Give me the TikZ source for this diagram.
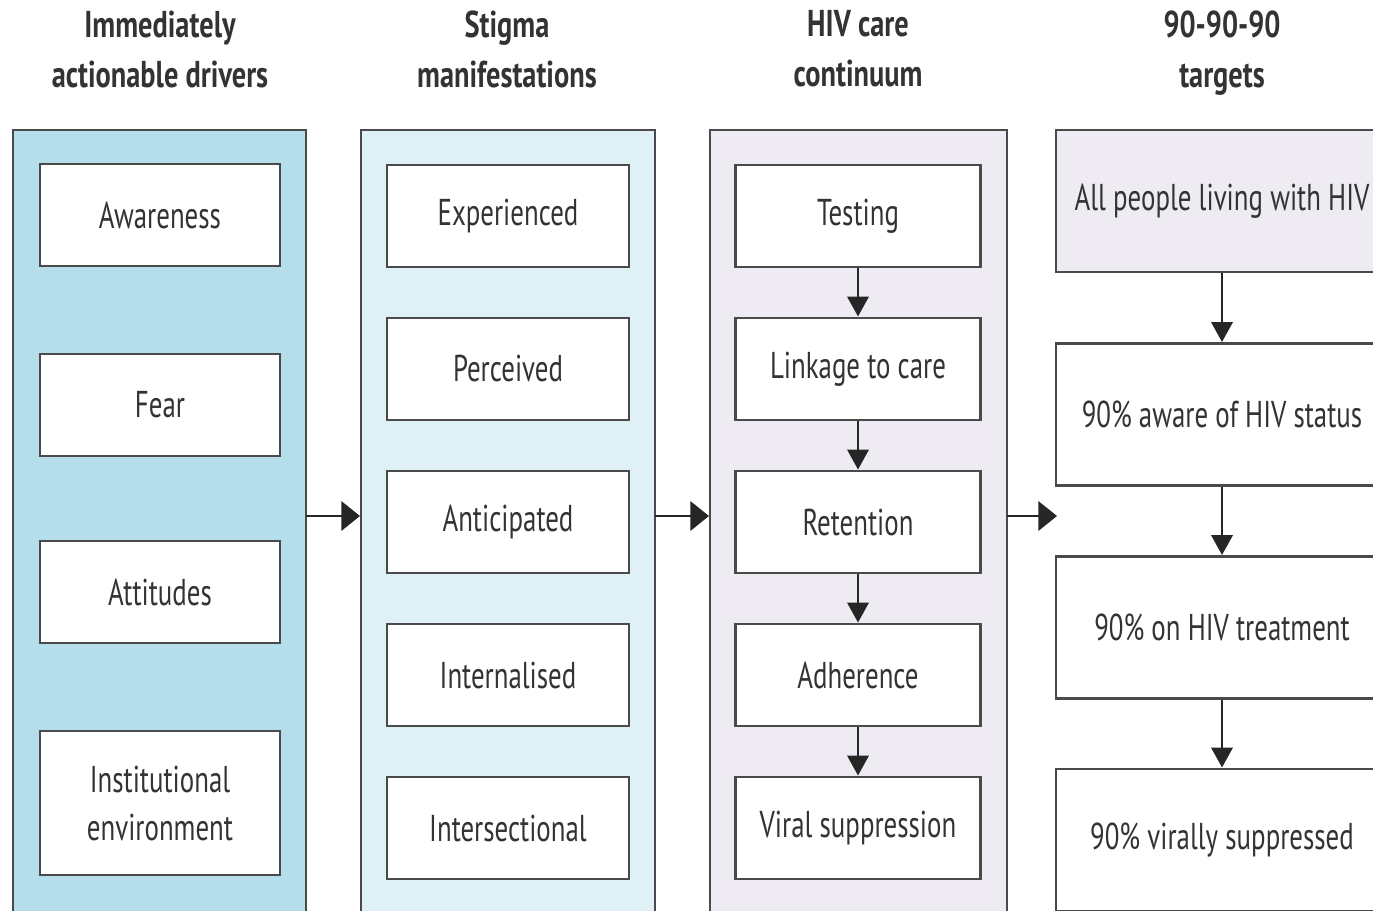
\documentclass[tikz,border=0pt]{standalone}
\usepackage{fontspec}
\setmainfont{PT Sans}[FakeStretch=0.72, BoldFeatures={FakeStretch=0.76}]
\usetikzlibrary{arrows.meta}
\definecolor{bordc}{HTML}{4A4A4A}
\definecolor{txtc}{HTML}{333333}
\definecolor{pan1}{HTML}{B5DEEA}
\definecolor{pan2}{HTML}{DFF0F7}
\definecolor{pan3}{HTML}{EEEBF3}
\tikzset{
  panel/.style={draw=bordc, line width=2.2pt},
  box/.style={draw=bordc, line width=2.2pt, fill=white, text=txtc, align=center,
    font=\fontsize{28}{36}\selectfont, inner sep=0pt},
  b1/.style={box, minimum width=180pt, minimum height=76.5pt},
  b2/.style={box, minimum width=181.5pt, minimum height=76.5pt},
  b3/.style={box, minimum width=183.75pt, minimum height=76.5pt},
  b4/.style={box, minimum width=249pt, minimum height=106.5pt},
  head/.style={text=txtc, align=center, font=\bfseries\fontsize{28}{37.5}\selectfont},
  arr/.style={draw=black!85, line width=2pt, -{Triangle[length=14pt,width=22pt]}},
  varr/.style={draw=black!85, line width=2pt, -{Triangle[length=15pt,width=16pt]}},
}
\begin{document}
\begin{tikzpicture}[x=0.75pt,y=-0.75pt]
\useasboundingbox (0,0) rectangle (1373,910);
\clip (0,0) rectangle (1373,910);
% panels
\draw[panel, fill=pan1] (13,130) rectangle (306,940);
\draw[panel, fill=pan2] (361,130) rectangle (655,940);
\draw[panel, fill=pan3] (710,130) rectangle (1007,940);
% headers
\node[head] (h1) at (160,49) {Immediately\\actionable drivers};
\node[head] (h2) at (507,49) {Stigma\\manifestations};
\node[head] (h3) at (858,49) {HIV care\\continuum};
\node[head] (h4) at (1222,53.5) {90-90-90\\targets};
% column 1
\node[b1] (aw) at (160,215) {Awareness};
\node[b1] (fe) at (160,405) {Fear};
\node[b1] (at) at (160,592) {Attitudes};
\node[b1, minimum height=108pt] (in) at (160,803) {Institutional\\environment};
% column 2
\node[b2] (ex) at (508,216) {Experienced};
\node[b2] (pe) at (508,369) {Perceived};
\node[b2] (an) at (508,522) {Anticipated};
\node[b2] (it) at (508,675) {Internalised};
\node[b2] (is) at (508,828) {Intersectional};
% column 3
\node[b3] (te) at (858,216) {Testing};
\node[b3] (li) at (858,369) {Linkage to care};
\node[b3] (re) at (858,522) {Retention};
\node[b3] (ad) at (858,675) {Adherence};
\node[b3] (vi) at (858,828) {Viral suppression};
% column 4
\node[b4, fill=pan3] (al) at (1222,201) {All people living with HIV};
\node[b4] (a90) at (1222,414.5) {90\% aware of HIV status};
\node[b4] (t90) at (1222,627.5) {90\% on HIV treatment};
\node[b4] (v90) at (1222,840) {90\% virally suppressed};
% coordinates for column arrows
\coordinate (c1s) at (306,516);
\coordinate (c1e) at (360,516);
\coordinate (c2s) at (655,516);
\coordinate (c2e) at (709,516);
\coordinate (c3s) at (1007,516);
\coordinate (c3e) at (1057,516);
\draw[arr] (c1s) -- (c1e);
\draw[arr] (c2s) -- (c2e);
\draw[arr] (c3s) -- (c3e);
% vertical arrows
\draw[varr] (te) -- (li);
\draw[varr] (li) -- (re);
\draw[varr] (re) -- (ad);
\draw[varr] (ad) -- (vi);
\draw[varr] (al) -- (a90);
\draw[varr] (a90) -- (t90);
\draw[varr] (t90) -- (v90);
\end{tikzpicture}
\end{document}
